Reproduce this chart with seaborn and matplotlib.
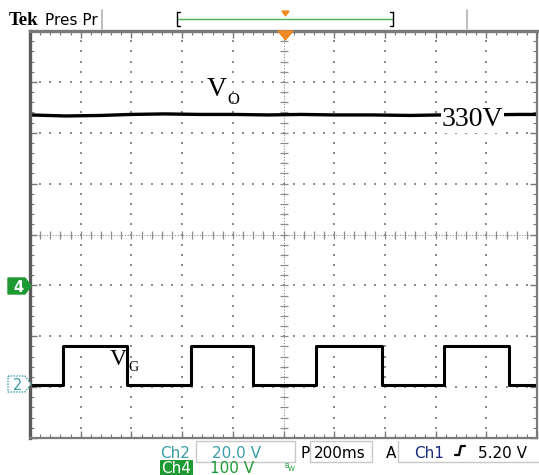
import matplotlib.pyplot as plt
import seaborn as sns
import numpy as np
from matplotlib.patches import Rectangle, Polygon
from matplotlib.lines import Line2D

# === DATI LETTI DALLO SCHERMO ===
# asse x: tempo in secondi (200 ms/div, 10 divisioni)
# VO sul canale 4 (100 V/div), VG sul canale 2 (20 V/div)
vo_t = [0.00, 0.14, 0.28, 0.40, 0.53, 0.67, 0.80, 0.94, 1.07, 1.20, 1.35, 1.50, 1.62, 1.78, 1.93, 2.00]
vo_v = [335, 333, 334, 336, 337, 336, 336, 335, 336, 335, 335, 334, 335, 335, 336, 336]

vg_t = [0.000, 0.130, 0.383, 0.635, 0.881, 1.130, 1.387, 1.632, 1.889, 2.000]
vg_v = [0, 15, 0, 15, 0, 15, 0, 15, 0, 0]

ch2_scale, ch2_offset = 20.0, -2.95   # V/div, posizione del livello zero in div
ch4_scale, ch4_offset = 100.0, -1.0

W, H = 539, 475

sns.set_theme(style="white")
plt.rcParams['font.family'] = ['DejaVu Sans']

fig = plt.figure(figsize=(W / 100, H / 100), dpi=100)
fig.patch.set_facecolor('white')


def px(x, y):
    # coordinate in pixel -> coordinate della figura
    return x / W, 1 - y / H


ax = fig.add_axes([30 / W, (H - 438) / H, 507 / W, 407 / H])
ax.set_xlim(0, 2)
ax.set_ylim(-4, 4)

# --- griglia puntinata stile Tek ---
grid_c = '#8c8c8c'
xs_major = np.arange(0, 2.001, 0.2)
ys_major = np.arange(-4, 4.001, 1)
for xv in xs_major[1:-1]:
    if abs(xv - 1.0) < 1e-6:
        continue
    yy = np.arange(-4, 4.001, 0.2)
    ax.scatter(np.full_like(yy, xv), yy, s=1.3, marker='s', color=grid_c, lw=0)
for yv in ys_major[1:-1]:
    if abs(yv) < 1e-6:
        continue
    xx = np.arange(0, 2.001, 0.04)
    ax.scatter(xx, np.full_like(xx, yv), s=1.3, marker='s', color=grid_c, lw=0)

# assi centrali con tacche
ax.axvline(1.0, color=grid_c, lw=0.8, ls=(0, (1, 1.5)))
ax.axhline(0.0, color=grid_c, lw=0.8, ls=(0, (1, 1.5)))
yy = np.arange(-4, 4.001, 0.2)
ax.plot(np.full_like(yy, 1.0), yy, ls='none', marker='_', ms=6, mew=0.9, color=grid_c)
xx = np.arange(0, 2.001, 0.04)
ax.plot(xx, np.zeros_like(xx), ls='none', marker='|', ms=6, mew=0.9, color=grid_c)

ax.set_xticks(xs_major)
ax.set_xticks(np.arange(0, 2.001, 0.04), minor=True)
ax.set_yticks(ys_major)
ax.set_yticks(np.arange(-4, 4.001, 0.2), minor=True)
ax.tick_params(which='both', direction='in', top=True, right=True, bottom=True, left=True,
               labelbottom=False, labelleft=False, color='#777777')
ax.tick_params(which='major', length=5, width=1)
ax.tick_params(which='minor', length=3, width=0.8)
for name, sp in ax.spines.items():
    sp.set_color('#7a7a7a')
    sp.set_linewidth(1.6)
ax.spines['left'].set_linewidth(2.4)
ax.spines['left'].set_color('#5a5a5a')
ax.spines['top'].set_linewidth(2.4)

# --- tracce ---
vo_div = [ch4_offset + v / ch4_scale for v in vo_v]
vg_div = [ch2_offset + v / ch2_scale for v in vg_v]
sns.lineplot(x=vo_t, y=vo_div, ax=ax, color='black', lw=2.4, estimator=None, sort=False)
sns.lineplot(x=vg_t, y=vg_div, ax=ax, color='black', lw=2.2, estimator=None, sort=False,
             drawstyle='steps-post')

# --- etichette delle forme d'onda ---
fig.text(*px(207, 96), 'V', family='Liberation Serif', fontsize=20, color='black')
fig.text(*px(227, 104), 'O', family='Liberation Serif', fontsize=12, color='black')
fig.text(*px(442, 126), '330V', family='Liberation Serif', fontsize=20, color='black',
         bbox=dict(facecolor='white', edgecolor='none', pad=0.5))
fig.text(*px(110, 365), 'V', family='Liberation Serif', fontsize=17, color='black')
fig.text(*px(128, 371), 'G', family='Liberation Serif', fontsize=10, color='black')

# --- intestazione ---
fig.text(*px(9, 25), 'Tek', family='Liberation Serif', fontweight='bold', fontsize=13.5, color='black')
fig.text(*px(45, 25), 'Pres Pr', fontsize=11, color='black')
for xl in (102, 467):
    fig.add_artist(Line2D([xl / W, xl / W], [1 - 10 / H, 1 - 29 / H], color='#b0b0b0', lw=1.2))
fig.add_artist(Line2D([177 / W, 393 / W], [1 - 19 / H, 1 - 19 / H], color='#4caf50', lw=1))
fig.add_artist(Line2D([177 / W, 177 / W, 180 / W], [1 - 12 / H, 1 - 26 / H, 1 - 26 / H], color='black', lw=1))
fig.add_artist(Line2D([177 / W, 180 / W], [1 - 12 / H, 1 - 12 / H], color='black', lw=1))
fig.add_artist(Line2D([393 / W, 393 / W, 390 / W], [1 - 12 / H, 1 - 26 / H, 1 - 26 / H], color='black', lw=1))
fig.add_artist(Line2D([393 / W, 390 / W], [1 - 12 / H, 1 - 12 / H], color='black', lw=1))
orange = '#f08a24'
fig.add_artist(Polygon([px(282, 11), px(289, 11), px(285.5, 16)], closed=True, color=orange))
fig.add_artist(Polygon([px(278, 31), px(293, 31), px(285.5, 40)], closed=True, color=orange, zorder=5))

# --- marcatori dei canali a sinistra ---
green = '#1f9a33'
teal = '#3a9ea6'
fig.add_artist(Polygon([px(8, 278), px(25, 278), px(31, 286), px(25, 294), px(8, 294)],
                       closed=True, facecolor=green, edgecolor=green))
fig.text(*px(13, 292), '4', fontsize=10.5, color='white', fontweight='bold')
fig.add_artist(Polygon([px(8, 376), px(25, 376), px(31, 384), px(25, 392), px(8, 392)],
                       closed=True, facecolor='white', edgecolor=teal, lw=1, ls=(0, (1, 1))))
fig.text(*px(13, 390), '2', fontsize=10.5, color=teal)

# --- barra di stato in basso ---
box_c = '#c8c8c8'
fig.add_artist(Rectangle(px(196, 462), 99 / W, 21 / H, fill=False, edgecolor=box_c, lw=1))
fig.add_artist(Rectangle(px(310, 462), 62 / W, 21 / H, fill=False, edgecolor=box_c, lw=1))
fig.add_artist(Line2D([398 / W, 398 / W, 539 / W], [1 - 441 / H, 1 - 462 / H, 1 - 462 / H], color=box_c, lw=1))
fig.text(*px(160, 458), 'Ch2', fontsize=11, color=teal)
fig.text(*px(212, 458), '20.0 V', fontsize=11, color=teal)
fig.text(*px(300, 458), 'P', fontsize=11, color='black')
fig.text(*px(314, 458), '200ms', fontsize=11, color='black')
fig.text(*px(386, 458), 'A', fontsize=11, color='black')
fig.text(*px(414, 458), 'Ch1', fontsize=11, color='#1c2a80')
fig.add_artist(Line2D([455 / W, 459 / W, 461 / W, 465 / W],
                      [1 - 455 / H, 1 - 455 / H, 1 - 446 / H, 1 - 446 / H], color='black', lw=1.6))
fig.text(*px(478, 458), '5.20 V', fontsize=11, color='black')
fig.add_artist(Rectangle(px(160, 475), 33 / W, 15 / H, facecolor=green, edgecolor='none'))
fig.text(*px(161, 473), 'Ch4', fontsize=11, color='white')
fig.text(*px(210, 473), '100 V', fontsize=11, color=green)
fig.text(*px(284, 468), 'B', fontsize=5, color=green)
fig.text(*px(288, 471), 'W', fontsize=5, color=green)

fig.savefig('out.png', dpi=100)
